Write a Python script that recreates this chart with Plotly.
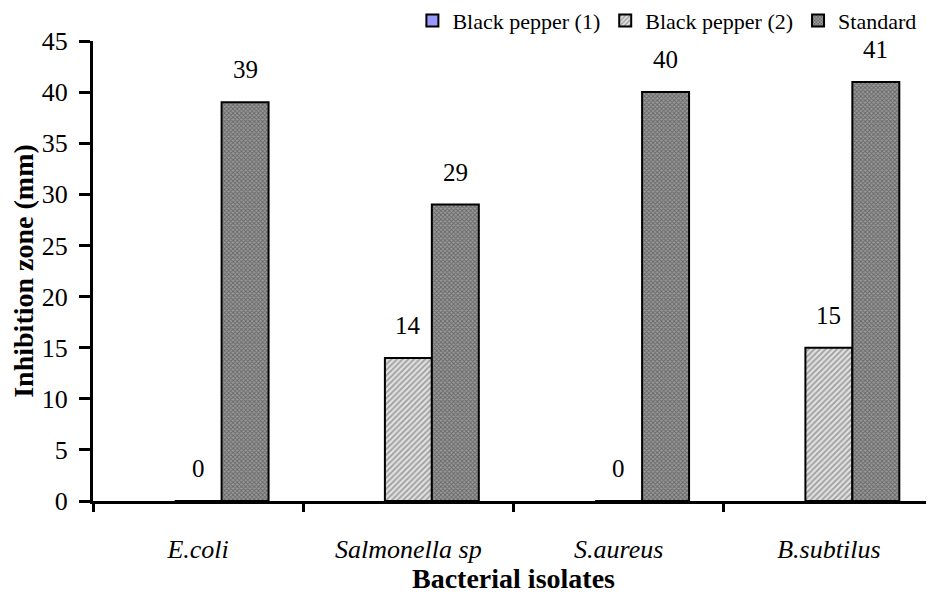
import plotly.graph_objects as go

categories = ["E.coli", "Salmonella sp", "S.aureus", "B.subtilus"]
bp1_values = [None, None, None, None]
bp2_values = [0, 14, 0, 15]
std_values = [39, 29, 40, 41]
y_ticks = [0, 5, 10, 15, 20, 25, 30, 35, 40, 45]

FONT = "Liberation Serif, Times New Roman, serif"
BARGAP = 0.33

fig = go.Figure()
fig.add_trace(go.Bar(
    name="Black pepper (1)", x=categories, y=bp1_values,
    marker=dict(color="#9999FF", line=dict(color="black", width=2)),
))
fig.add_trace(go.Bar(
    name="Black pepper (2)", x=categories, y=bp2_values,
    marker=dict(color="white", line=dict(color="black", width=2),
                pattern=dict(shape="/", fgcolor="#555555", bgcolor="#e0e0e0",
                             size=4, solidity=0.4)),
))
fig.add_trace(go.Bar(
    name="Standard", x=categories, y=std_values,
    marker=dict(color="white", line=dict(color="black", width=2),
                pattern=dict(shape="x", fgcolor="#333333", bgcolor="#9a9a9a",
                             size=3, solidity=0.5)),
))

# value labels
w = (1 - BARGAP) / 3
for k, series in enumerate([bp2_values, std_values]):
    off = k * w  # bp2 at center, std at +w
    for i, v in enumerate(series):
        fig.add_annotation(x=i + off, y=v, text=str(v), showarrow=False,
                           yanchor="bottom", yshift=17,
                           font=dict(family=FONT, size=25, color="black"))

# the page body has an 8px default margin: size the figure to fit the window
fig.update_layout(
    width=926, height=586,
    margin=dict(l=85, r=0, t=33, b=93, autoexpand=False),
    paper_bgcolor="white", plot_bgcolor="white",
    barmode="group", bargap=BARGAP, bargroupgap=0,
    font=dict(family=FONT, color="black"),
    showlegend=True,
    legend=dict(orientation="h", x=0.985, xanchor="right", y=1.09, yanchor="top",
                font=dict(family=FONT, size=22, color="black"),
                itemwidth=30, tracegroupgap=0, itemclick=False,
                bgcolor="rgba(0,0,0,0)", borderwidth=0),
)
fig.update_yaxes(
    range=[0, 45], tickvals=y_ticks, showgrid=False, zeroline=False,
    showline=True, linecolor="black", linewidth=3, automargin=False,
    ticks="outside", ticklen=11, tickwidth=3, tickcolor="black",
    ticklabelstandoff=6,
    tickfont=dict(family=FONT, size=26, color="black"),
    title=dict(text="<b>Inhibition zone (mm)</b>", font=dict(family=FONT, size=28), standoff=10),
)
fig.update_xaxes(
    type="category", showgrid=False, zeroline=False,
    showline=True, linecolor="black", linewidth=3, automargin=False,
    ticks="outside", ticklen=8, tickwidth=3, tickcolor="black",
    tickson="boundaries", ticklabelstandoff=23,
    tickvals=categories, ticktext=["<i>%s</i>" % c for c in categories],
    tickfont=dict(family=FONT, size=26, color="black"),
    title=dict(text="<b>Bacterial isolates</b>", font=dict(family=FONT, size=28), standoff=16),
)

fig.write_html("out.html")
